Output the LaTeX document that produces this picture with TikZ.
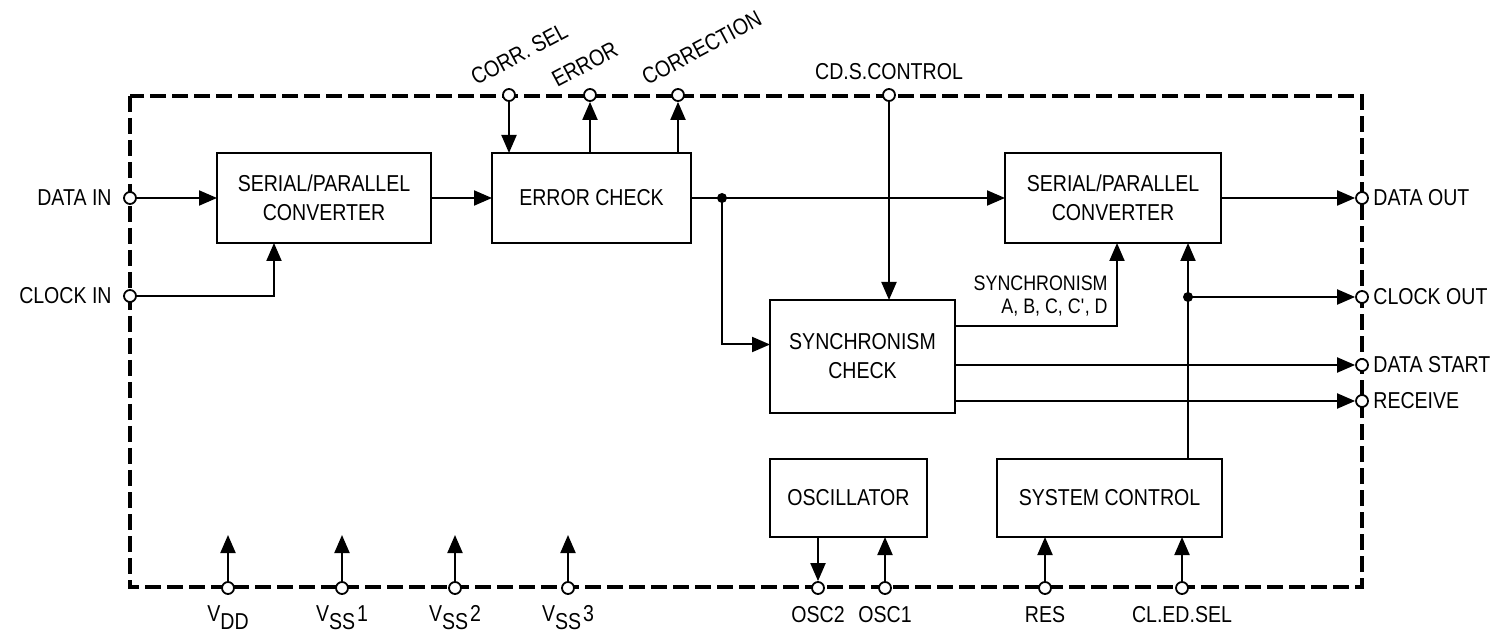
\documentclass[tikz,border=0pt]{standalone}
\usepackage{fontspec}
\setmainfont{Liberation Sans}[FakeStretch=0.85]
\usetikzlibrary{arrows.meta,calc}
\begin{document}
\begin{tikzpicture}[x=0.5pt,y=-0.5pt,
  every node/.style={font=\fontsize{11.5}{14.5}\selectfont},
  blk/.style={draw,line width=1.2pt,align=center,inner sep=0pt,outer sep=0pt},
  pinc/.style={circle,draw,fill=white,line width=0.9pt,minimum size=6pt,inner sep=0pt},
  jdot/.style={circle,fill,minimum size=5pt,inner sep=0pt},
  wire/.style={line width=1pt},
  arr/.style={wire,-{Triangle[length=9pt,width=7.5pt]}},
  frame/.style={line width=2pt,dash pattern=on 8pt off 3pt},
  lbl/.style={inner sep=0pt},
  sml/.style={font=\fontsize{10.5}{11.5}\selectfont,align=right,inner sep=0pt}]
\useasboundingbox (0,0) rectangle (1508,635);
\draw[frame] (130,96) rectangle (1362,587);

% blocks
\node[blk,minimum width=107pt,minimum height=45pt] (sp1) at (324,198) {SERIAL/PARALLEL\\CONVERTER};
\node[blk,minimum width=99.5pt,minimum height=45pt] (ec) at (591.5,198) {ERROR CHECK};
\node[blk,minimum width=108pt,minimum height=45pt] (sp2) at (1113,198) {SERIAL/PARALLEL\\CONVERTER};
\node[blk,minimum width=92.5pt,minimum height=56.5pt] (sc) at (862.5,356.5) {SYNCHRONISM\\CHECK};
\node[blk,minimum width=78.5pt,minimum height=39pt] (osc) at (848.5,498) {OSCILLATOR};
\node[blk,minimum width=112.5pt,minimum height=39pt] (sys) at (1109.5,498) {SYSTEM CONTROL};

% pins
\node[pinc] (pDI) at (130,198) {};
\node[pinc] (pCI) at (130,296) {};
\node[pinc] (pCS) at (509,95) {};
\node[pinc] (pER) at (590,95) {};
\node[pinc] (pCR) at (678,95) {};
\node[pinc] (pCD) at (889,95) {};
\node[pinc] (pDO) at (1362,198) {};
\node[pinc] (pCO) at (1362,297) {};
\node[pinc] (pDS) at (1362,365) {};
\node[pinc] (pRC) at (1362,401) {};
\node[pinc] (pVD) at (228,588) {};
\node[pinc] (pV1) at (342,588) {};
\node[pinc] (pV2) at (455,588) {};
\node[pinc] (pV3) at (568,588) {};
\node[pinc] (pO2) at (818,588) {};
\node[pinc] (pO1) at (885,588) {};
\node[pinc] (pRS) at (1045,588) {};
\node[pinc] (pCL) at (1182,588) {};

% free ends of supply arrows
\coordinate (aVD) at (228,535);
\coordinate (aV1) at (342,535);
\coordinate (aV2) at (455,535);
\coordinate (aV3) at (568,535);

% junctions
\node[jdot] (d1) at (722,198) {};
\node[jdot] (d2) at (1188,297) {};

% connectors
\draw[arr] (pDI) -- (pDI -| sp1.west);
\draw[arr] (pCI) -| ($(sp1.south west)+(57,0)$);
\draw[arr] (sp1.east) -- (ec.west);
\draw[arr] (pCS) -- (pCS |- ec.north);
\draw[arr] (pER |- ec.north) -- (pER);
\draw[arr] (pCR |- ec.north) -- (pCR);
\draw[arr] (ec.east) -- (sp2.west);
\draw[arr] (d1.center) |- ($(sc.west)+(0,-12)$);
\draw[arr] (pCD) -- (pCD |- sc.north);
\draw[arr] ($(sc.east)+(0,-30.5)$) -| ($(sp2.south west)+(112,0)$);
\draw[arr] (d2.center |- sys.north) -- (d2.center |- sp2.south);
\draw[arr] (d2.center) -- (pCO);
\draw[arr] (sp2.east) -- (pDO);
\draw[arr] (sc.east |- pDS) -- (pDS);
\draw[arr] (sc.east |- pRC) -- (pRC);
\draw[arr] (pVD) -- (aVD);
\draw[arr] (pV1) -- (aV1);
\draw[arr] (pV2) -- (aV2);
\draw[arr] (pV3) -- (aV3);
\draw[arr] (osc.south -| pO2) -- (pO2);
\draw[arr] (pO1) -- (pO1 |- osc.south);
\draw[arr] (pRS) -- (pRS |- sys.south);
\draw[arr] (pCL) -- (pCL |- sys.south);

% labels
\node[lbl,anchor=east] (tDI) at (112,198) {DATA IN};
\node[lbl,anchor=east] (tCI) at (112,296) {CLOCK IN};
\node[lbl,anchor=west] (tDO) at (1373,198) {DATA OUT};
\node[lbl,anchor=west] (tCO) at (1373,297) {CLOCK OUT};
\node[lbl,anchor=west] (tDS) at (1373,365) {DATA START};
\node[lbl,anchor=west] (tRC) at (1373,401) {RECEIVE};
\node[lbl,anchor=base west,rotate=28] (tCS) at (476,86) {CORR. SEL};
\node[lbl,anchor=base west,rotate=28] (tER) at (557,88) {ERROR};
\node[lbl,anchor=base west,rotate=28] (tCR) at (647,86) {CORRECTION};
\node[lbl,anchor=base] (tCD) at (889,80) {CD.S.CONTROL};
\node[sml,anchor=east] (tSY) at (1108,296) {SYNCHRONISM\\A, B, C, C\textquotesingle, D};
\node[lbl,anchor=base] (tVD) at (228,621) {V\raisebox{-4pt}{DD}};
\node[lbl,anchor=base] (tV1) at (342,621) {V\raisebox{-4pt}{SS}\kern1pt 1};
\node[lbl,anchor=base] (tV2) at (455,621) {V\raisebox{-4pt}{SS}\kern1pt 2};
\node[lbl,anchor=base] (tV3) at (568,621) {V\raisebox{-4pt}{SS}\kern1pt 3};
\node[lbl,anchor=base] (tO2) at (818,622) {OSC2};
\node[lbl,anchor=base] (tO1) at (885,622) {OSC1};
\node[lbl,anchor=base] (tRS) at (1045,622) {RES};
\node[lbl,anchor=base] (tCL) at (1182,622) {CL.ED.SEL};
\end{tikzpicture}
\end{document}
